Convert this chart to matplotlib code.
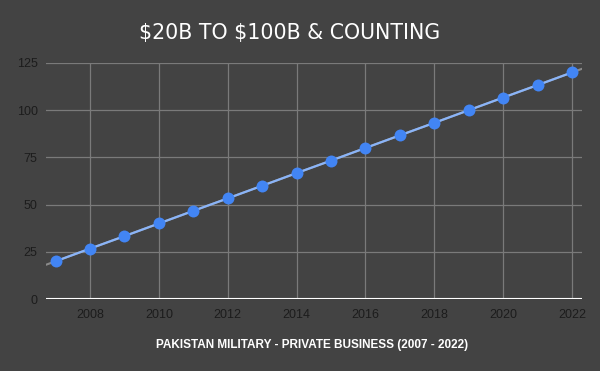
import matplotlib
matplotlib.use("Agg")
import matplotlib.pyplot as plt
import numpy as np

years = [2007, 2008, 2009, 2010, 2011, 2012, 2013, 2014, 2015, 2016, 2017, 2018, 2019, 2020, 2021, 2022]
values = [20, 26.7, 33.3, 40, 46.7, 53.3, 60, 66.7, 73.3, 80, 86.7, 93.3, 100, 106.7, 113.3, 120]
x_ticks = [2008, 2010, 2012, 2014, 2016, 2018, 2020, 2022]
y_ticks = [0, 25, 50, 75, 100, 125]
title = r"\$20B TO \$100B & COUNTING"
xlabel = "PAKISTAN MILITARY - PRIVATE BUSINESS (2007 - 2022)"

bg = "#434343"
plt.rcParams['font.family'] = ['Liberation Sans', 'DejaVu Sans']

fig = plt.figure(figsize=(6, 3.71), dpi=100, facecolor=bg)
ax = fig.add_axes([46/600, 1-299/371, (582-46)/600, (299-63)/371])
ax.set_facecolor(bg)

xmin, xmax = 2006.72, 2022.29
ax.set_xlim(xmin, xmax)
ax.set_ylim(0, 125)

# trendline
coef = np.polyfit(years, values, 1)
xt = np.array([xmin, xmax])
ax.plot(xt, np.polyval(coef, xt), color="#8a8a8a", lw=1.5, zorder=2)

ax.plot(years, values, color="#8ab4f8", lw=1.6, zorder=3)
ax.plot(years, values, 'o', color="#4285f4", markersize=8.6, markeredgewidth=0, zorder=4)

ax.set_xticks(x_ticks)
ax.set_yticks(y_ticks)
ax.set_yticklabels([str(v) for v in y_ticks])
ax.grid(True, color="#7a7a7a", lw=0.9)
ax.set_axisbelow(True)
for s in ax.spines.values():
    s.set_visible(False)
ax.axhline(0, color="white", lw=1.5, zorder=2.5)
ax.tick_params(length=0, labelsize=9, colors="#1c1c1c", pad=6)
ax.tick_params(axis='x', pad=7)

fig.text(290/600, 1-32.5/371, title, color="white", fontsize=14.8, ha="center", va="center",
         family=['DejaVu Sans'])
fig.text(312/600, 1-345/371, xlabel, color="white", fontsize=8.5, fontweight="bold",
         ha="center", va="center")

fig.savefig("out.png", dpi=100, facecolor=bg)
